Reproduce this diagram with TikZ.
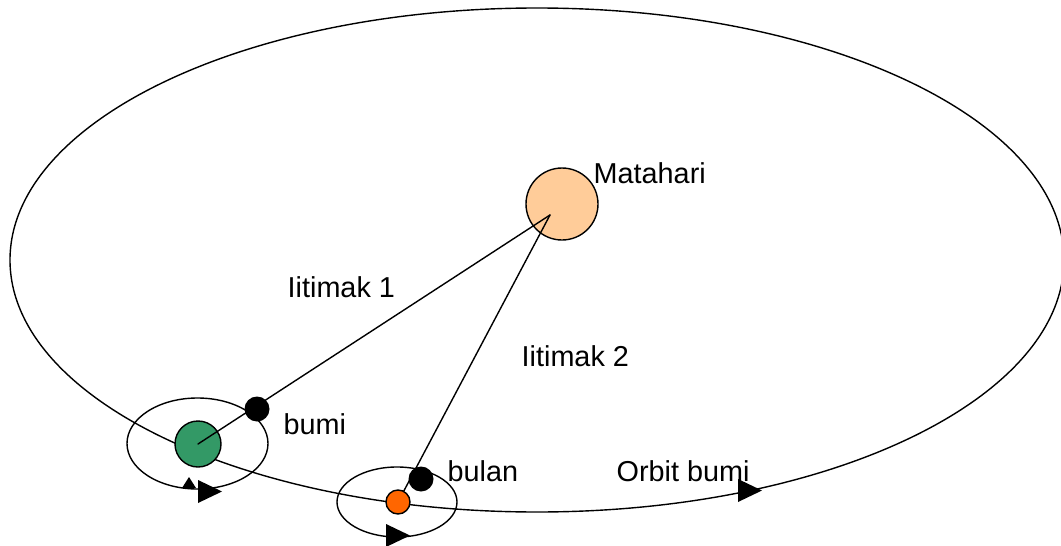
\documentclass[tikz,border=0pt]{standalone}
\usepackage{fontspec}
\setmainfont{Liberation Sans}
\usepackage{tikz}
\usetikzlibrary{calc}

\definecolor{bumigreen}{RGB}{51,153,102}
\definecolor{mataharicol}{RGB}{255,204,153}
\definecolor{bulancol}{RGB}{255,102,0}

\begin{document}
\begin{tikzpicture}[x=0.5pt,y=-0.5pt,line cap=round,line join=round,line width=0.7pt,
                planet/.style={circle,draw,line width=0.7pt,inner sep=0pt},
                dot/.style={circle,fill=black,inner sep=0pt,minimum size=12.5pt},
                lbl/.style={anchor=base west,inner sep=0pt,font=\fontsize{14.4}{17}\selectfont}]
            \useasboundingbox (0,0) rectangle (1061,546);
            \draw (537,260) ellipse [x radius=527,y radius=252];
            \draw (197.5,443.5) ellipse [x radius=70.5,y radius=45.5];
            \draw (397,502) ellipse [x radius=60,y radius=35];
            \node[planet,fill=mataharicol,minimum size=36pt] (matahari) at (562,204) {};
            \node[planet,fill=bumigreen,minimum size=23pt] (bumi) at (198,444) {};
            \coordinate (S) at (550,215);
            \coordinate (bulanpos) at (398,502);
            \draw (bumi.center) -- (S);
            \draw (bulanpos) -- (S);
            \node[planet,fill=bulancol,minimum size=12pt] (bulan) at (bulanpos) {};
            \node[dot] (ijtimak1) at (257,409) {};
            \node[dot] (ijtimak2) at (421,479) {};

            \foreach \X/\Y in {198/480,386/524,738/479}
                \fill (\X,\Y) -- ++(24,11.5) -- ++(-24,11.5) -- cycle;
            \fill (189,477) -- (196,488) -- (182,488) -- cycle;

            \node[lbl] (tmatahari) at (593,183) {Matahari};
            \node[lbl] (tijtimak1) at (287,297) {Iitimak 1};
            \node[lbl] (tijtimak2) at (521,366) {Iitimak 2};
            \node[lbl] (tbumi) at (283,434) {bumi};
            \node[lbl] (tbulan) at (447,481) {bulan};
            \node[lbl] (torbit) at (616,481) {Orbit bumi};
        \end{tikzpicture}
\end{document}
